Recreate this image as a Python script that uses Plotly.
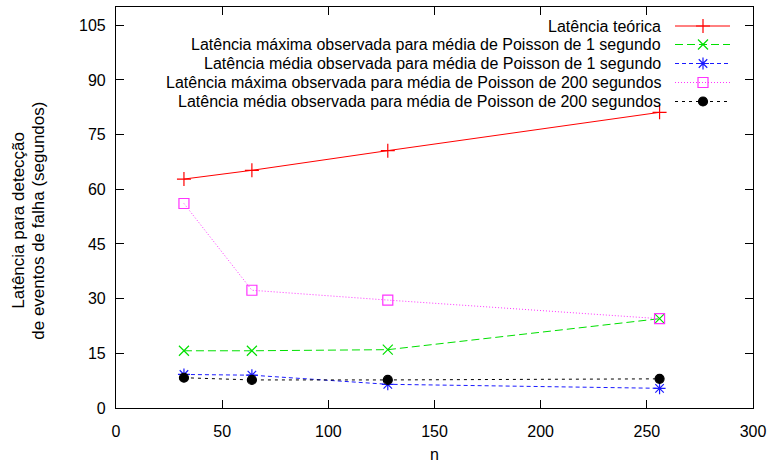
import plotly.graph_objects as go

# Number of nodes
n = [32, 64, 128, 256]

# Latency series (seconds)
lat_teorica = [62.8, 65.2, 70.6, 81.1]
lat_max_p1 = [15.7, 15.7, 16.0, 24.5]
lat_med_p1 = [9.2, 9.0, 6.5, 5.4]
lat_max_p200 = [56.1, 32.3, 29.6, 24.5]
lat_med_p200 = [8.3, 7.7, 7.7, 8.0]

x_ticks = [0, 50, 100, 150, 200, 250, 300]
y_ticks = [0, 15, 30, 45, 60, 75, 90, 105]

FONT = "Liberation Sans, Arial, sans-serif"

series = [
    ("Latência teórica", lat_teorica, "#ff0000", "solid", "cross-thin-open", 10),
    ("Latência máxima observada para média de Poisson de 1 segundo", lat_max_p1, "#00e000", "8px,4px", "x-thin-open", 10),
    ("Latência média observada para média de Poisson de 1 segundo", lat_med_p1, "#1a1aff", "4px,3px", "asterisk-open", 10),
    ("Latência máxima observada para média de Poisson de 200 segundos", lat_max_p200, "#ff33ff", "1px,2px", "square-open", 10),
    ("Latência média observada para média de Poisson de 200 segundos", lat_med_p200, "#000000", "3px,4px", "circle", 9),
]

fig = go.Figure()

for name, vals, color, dash, sym, size in series:
    fig.add_trace(go.Scatter(
        x=n, y=vals, mode="lines+markers", name=name,
        line=dict(color=color, width=1, dash=dash),
        marker=dict(symbol=sym, size=size, color=color,
                    line=dict(color=color, width=1.2)),
        showlegend=False, xaxis="x", yaxis="y",
    ))

# Key drawn on a pixel-scaled overlay axis (right-aligned labels, samples on the right)
key_rows = [26, 44.5, 63.5, 82.5, 101.5]
for (name, vals, color, dash, sym, size), yy in zip(series, key_rows):
    fig.add_trace(go.Scatter(
        x=[675, 730], y=[yy, yy], mode="lines",
        line=dict(color=color, width=1, dash=dash),
        showlegend=False, hoverinfo="skip", xaxis="x2", yaxis="y2",
    ))
    fig.add_trace(go.Scatter(
        x=[703], y=[yy], mode="markers",
        marker=dict(symbol=sym, size=size, color=color,
                    line=dict(color=color, width=1.2)),
        showlegend=False, hoverinfo="skip", xaxis="x2", yaxis="y2",
    ))
    fig.add_annotation(
        x=663, y=yy, xref="x2", yref="y2", text=name, showarrow=False,
        xanchor="right", yanchor="middle",
        font=dict(family=FONT, size=16, color="#000000"),
    )

axis_common = dict(
    showgrid=False, zeroline=False, showline=True, linecolor="#000000",
    linewidth=1.2, ticks="inside", ticklen=8, tickcolor="#000000",
    tickwidth=1, mirror="ticks",
    tickfont=dict(family=FONT, size=16, color="#000000"),
)

fig.update_layout(
    width=773, height=467,
    margin=dict(l=116, r=20, t=7, b=59),
    paper_bgcolor="#ffffff", plot_bgcolor="#ffffff",
    xaxis=dict(range=[0, 300], tickvals=x_ticks, ticklabelstandoff=9, **axis_common),
    yaxis=dict(range=[0, 110], tickvals=y_ticks, ticklabelstandoff=6, **axis_common),
    xaxis2=dict(range=[116, 753], overlaying="x", visible=False, fixedrange=True),
    yaxis2=dict(range=[408, 7], overlaying="y", visible=False, fixedrange=True),
    showlegend=False,
)

# Axis titles
fig.add_annotation(
    xref="paper", yref="paper", x=0.5, y=-0.117, text="n", showarrow=False,
    font=dict(family=FONT, size=16, color="#000000"),
    xanchor="center", yanchor="middle",
)
for text, px in [("Latência para detecção", 19), ("de eventos de falha (segundos)", 39)]:
    fig.add_annotation(
        xref="paper", yref="paper", x=(px - 116) / 637, y=0.467,
        text=text, showarrow=False, textangle=-90,
        font=dict(family=FONT, size=17, color="#000000"),
        xanchor="center", yanchor="middle",
    )

fig.write_html("out.html")
